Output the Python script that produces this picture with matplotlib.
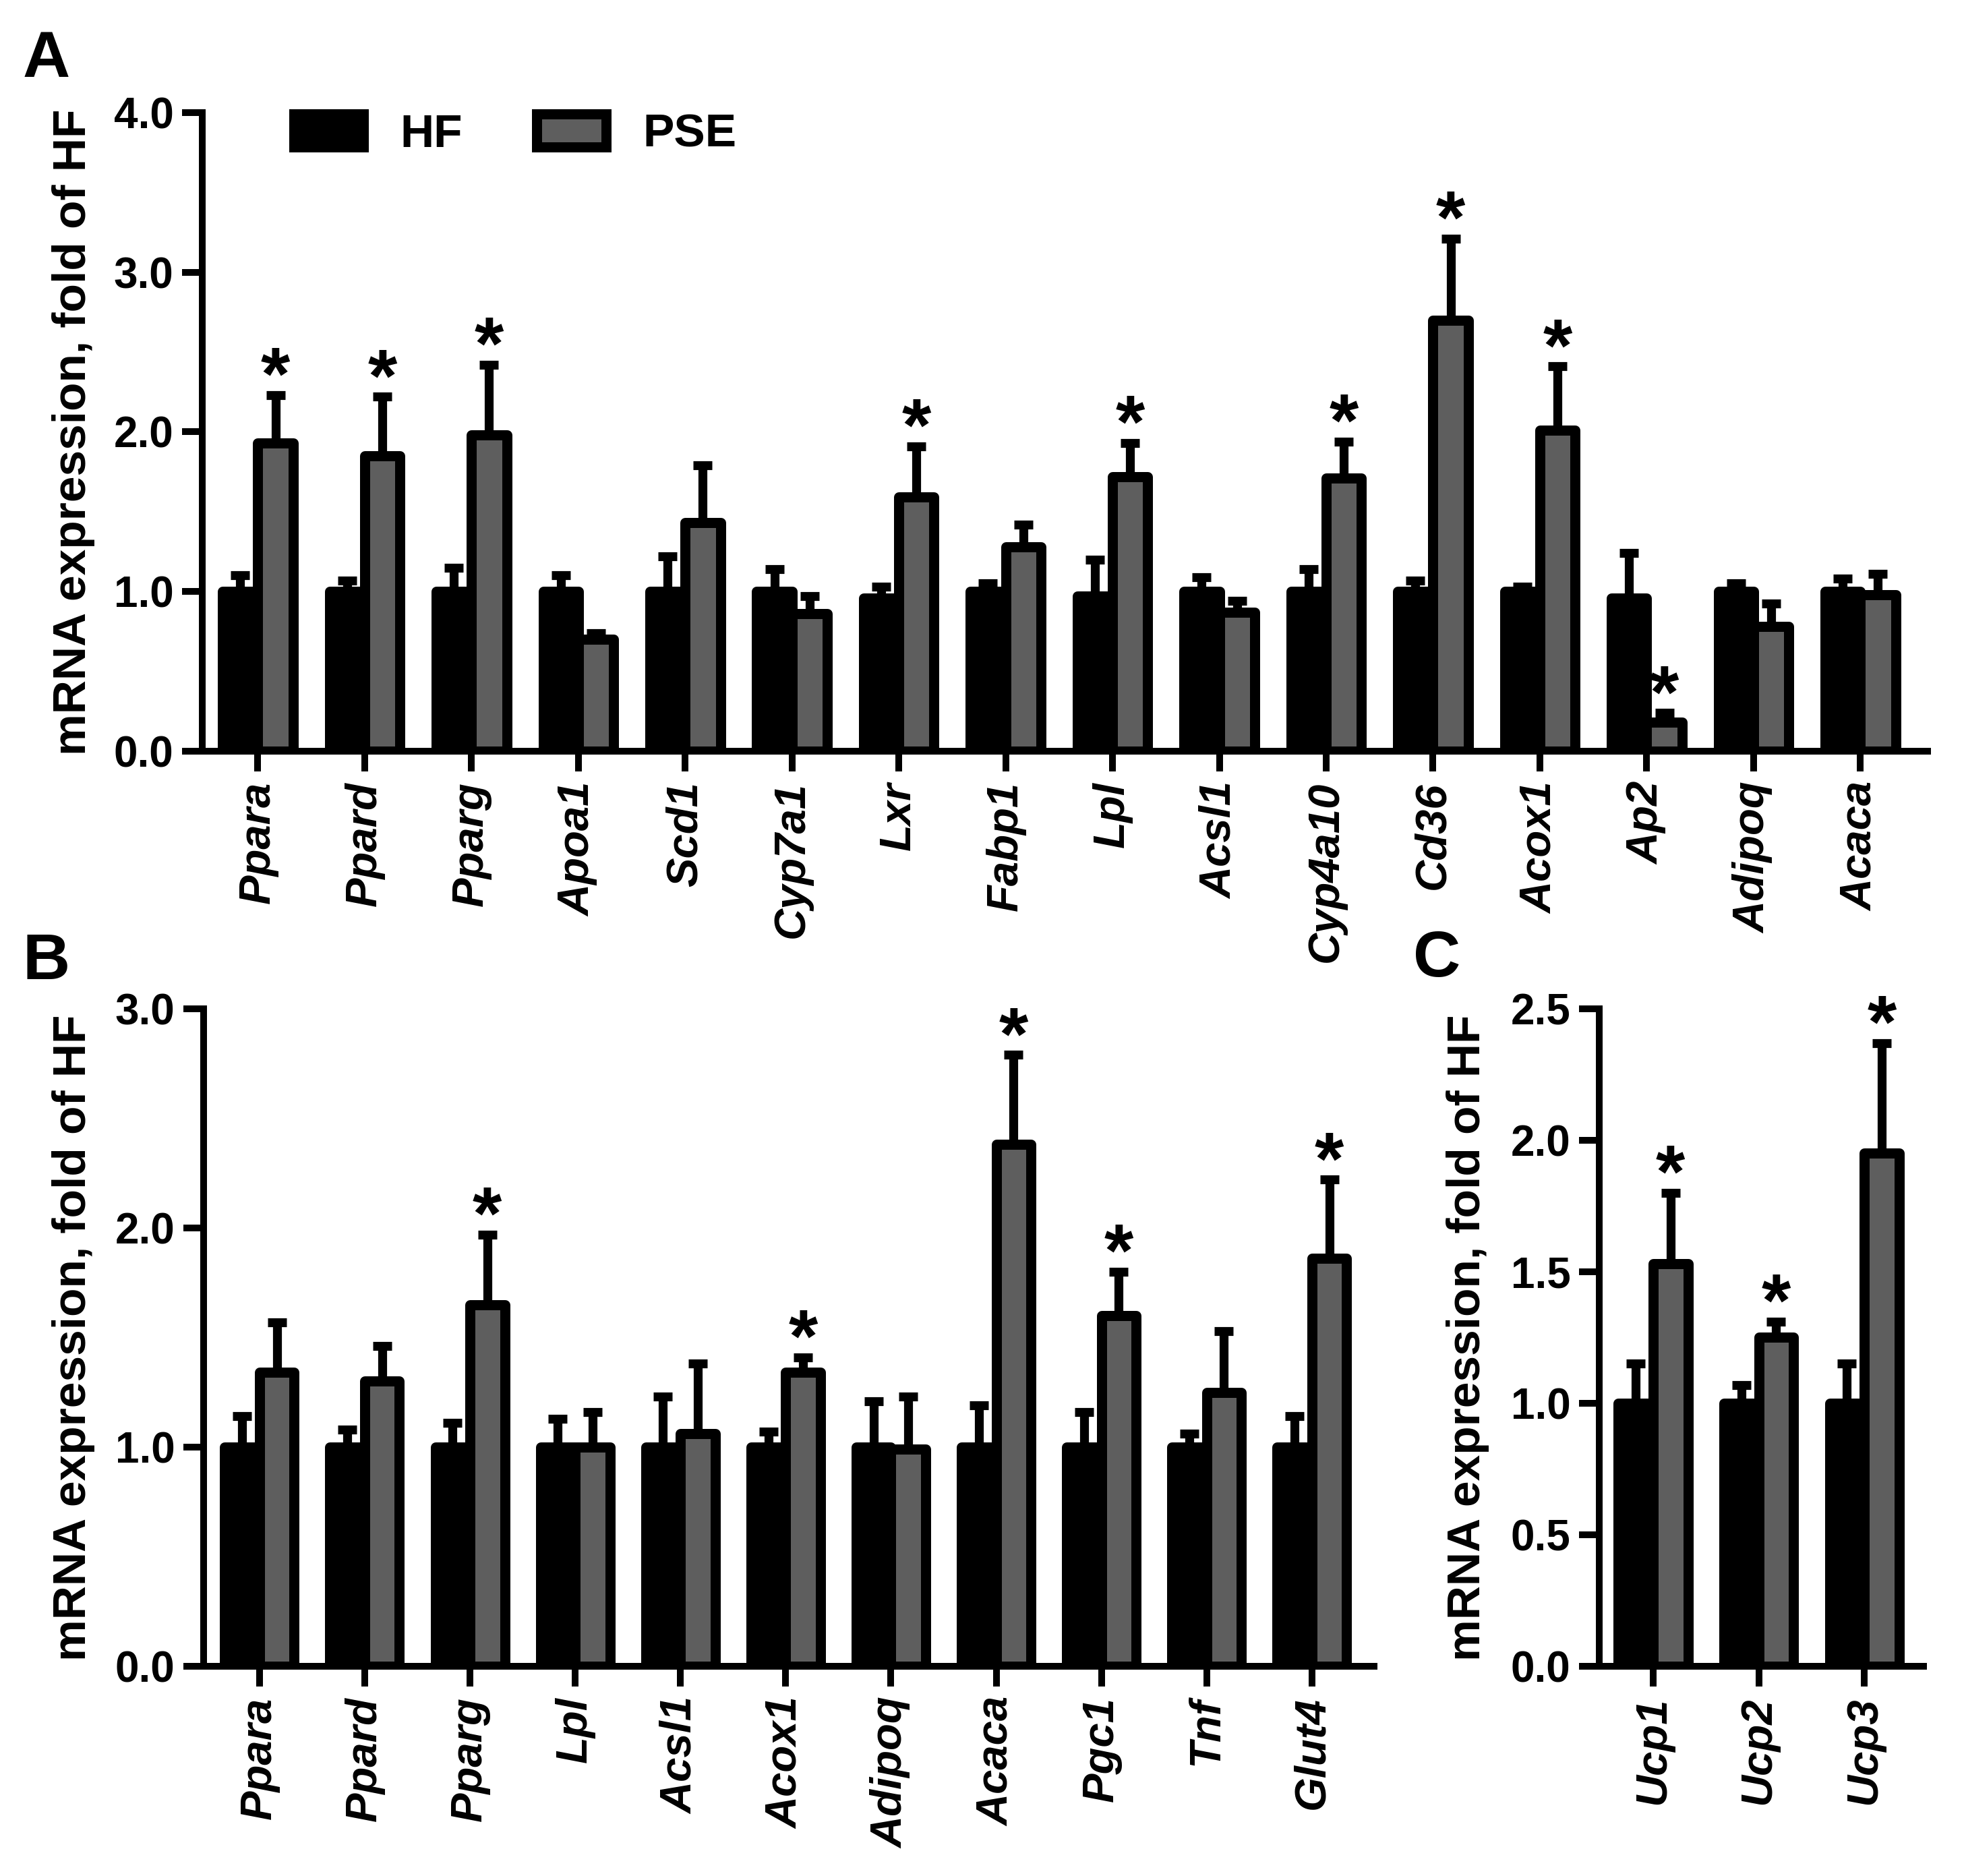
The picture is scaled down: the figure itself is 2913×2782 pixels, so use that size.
import numpy as np
import matplotlib
matplotlib.use("Agg")
import matplotlib.pyplot as plt
from matplotlib.patches import Patch
from matplotlib.transforms import blended_transform_factory

plt.rcParams["font.family"] = ["Liberation Sans", "DejaVu Sans"]
plt.rcParams["font.weight"] = "bold"

# ---- data, mean and SEM, fold of HF ----
genes_a = ["Ppara", "Ppard", "Pparg", "Apoa1", "Scd1", "Cyp7a1", "Lxr", "Fabp1",
           "Lpl", "Acsl1", "Cyp4a10", "Cd36", "Acox1", "Ap2", "Adipoq", "Acaca"]
hf_a = [1.00, 1.00, 1.00, 1.00, 1.00, 1.00, 0.96, 1.00, 0.97, 1.00, 1.00, 1.00, 1.00, 0.96, 1.00, 1.00]
hf_a_sem = [0.10, 0.07, 0.15, 0.10, 0.22, 0.14, 0.07, 0.05, 0.23, 0.09, 0.14, 0.07, 0.03, 0.28, 0.05, 0.08]
pse_a = [1.93, 1.85, 1.98, 0.70, 1.43, 0.86, 1.59, 1.28, 1.72, 0.87, 1.71, 2.70, 2.01, 0.18, 0.78, 0.98]
pse_a_sem = [0.30, 0.37, 0.44, 0.04, 0.36, 0.11, 0.32, 0.14, 0.21, 0.07, 0.23, 0.51, 0.40, 0.06, 0.145, 0.13]
sig_a = [1, 1, 1, 0, 0, 0, 1, 0, 1, 0, 1, 1, 1, 1, 0, 0]

genes_b = ["Ppara", "Ppard", "Pparg", "Lpl", "Acsl1", "Acox1", "Adipoq", "Acaca", "Pgc1", "Tnf", "Glut4"]
hf_b = [1.00, 1.00, 1.00, 1.00, 1.00, 1.00, 1.00, 1.00, 1.00, 1.00, 1.00]
hf_b_sem = [0.14, 0.08, 0.11, 0.13, 0.23, 0.07, 0.21, 0.19, 0.16, 0.06, 0.14]
pse_b = [1.34, 1.30, 1.65, 1.00, 1.06, 1.34, 0.99, 2.38, 1.60, 1.25, 1.86]
pse_b_sem = [0.23, 0.16, 0.32, 0.16, 0.32, 0.07, 0.24, 0.41, 0.20, 0.28, 0.36]
sig_b = [0, 0, 1, 0, 0, 1, 0, 1, 1, 0, 1]

genes_c = ["Ucp1", "Ucp2", "Ucp3"]
hf_c = [1.00, 1.00, 1.00]
hf_c_sem = [0.15, 0.07, 0.15]
pse_c = [1.53, 1.25, 1.95]
pse_c_sem = [0.27, 0.06, 0.42]
sig_c = [1, 1, 1]

GRAY = "#5e5e5e"
W, H = 2913, 2782
BW = 0.33      # bar width
EDGE = 10.8    # bar outline (pt)
LW = 7.2       # axis / tick line width (pt)

fig = plt.figure(figsize=(W / 100, H / 100), dpi=100)


def panel(rect, genes, hf, hf_sem, pse, pse_sem, sig, ylim, yticks, xlim, label_x):
    ax = fig.add_axes(rect)
    x = np.arange(len(genes))
    ax.bar(x - BW / 2, hf, BW, color="black", edgecolor="black", linewidth=EDGE,
           joinstyle="round", zorder=2)
    ax.bar(x + BW / 2, pse, BW, color=GRAY, edgecolor="black", linewidth=EDGE,
           joinstyle="round", zorder=2)
    zeros = np.zeros(len(genes))
    for xx, m, s in [(x - BW / 2, hf, hf_sem), (x + BW / 2, pse, pse_sem)]:
        ax.errorbar(xx, m, yerr=[zeros, s], fmt="none", ecolor="black",
                    elinewidth=9.5, capsize=10, capthick=9.5, zorder=1)
    for i in range(len(genes)):
        if sig[i]:
            ax.annotate("*", xy=(x[i] + BW / 2, pse[i] + pse_sem[i]), xytext=(0, -5),
                        textcoords="offset points", ha="center", va="baseline",
                        fontsize=80, fontweight="bold")
    ax.set_xlim(*xlim)
    ax.set_ylim(*ylim)
    ax.set_yticks(yticks)
    ax.set_yticklabels(["%.1f" % v for v in yticks])
    ax.set_xticks(x)
    ax.set_xticklabels(genes, rotation=90, fontstyle="italic", fontweight="bold")
    for side in ["top", "right"]:
        ax.spines[side].set_visible(False)
    for side in ["left", "bottom"]:
        ax.spines[side].set_linewidth(LW)
    ax.tick_params(axis="both", width=LW, length=21.6, labelsize=46)
    ax.tick_params(axis="x", pad=11, labelsize=47)
    ax.tick_params(axis="y", pad=9)
    ax.set_ylabel("mRNA expression, fold of HF", fontsize=50, fontweight="bold")
    ax.yaxis.set_label_coords(label_x, 0.5,
                              transform=blended_transform_factory(fig.transFigure, ax.transAxes))
    return ax


ax_a = panel([0.1030, 0.5996, 0.8785, 0.3404], genes_a, hf_a, hf_a_sem, pse_a, pse_a_sem, sig_a,
             (0, 4), [0, 1, 2, 3, 4], (-0.52, 15.63), 141 / W)
ax_b = panel([0.1037, 0.1118, 0.5959, 0.3505], genes_b, hf_b, hf_b_sem, pse_b, pse_b_sem, sig_b,
             (0, 3), [0, 1, 2, 3], (-0.53, 10.59), 141 / W)
ax_c = panel([0.8143, 0.1118, 0.1651, 0.3505], genes_c, hf_c, hf_c_sem, pse_c, pse_c_sem, sig_c,
             (0, 2.5), [0, 0.5, 1.0, 1.5, 2.0, 2.5], (-0.51, 2.56), 2209 / W)

handles = [Patch(facecolor="black", edgecolor="black", linewidth=EDGE, joinstyle="round", label="HF"),
           Patch(facecolor=GRAY, edgecolor="black", linewidth=EDGE, joinstyle="round", label="PSE")]
ax_a.legend(handles=handles, ncol=2, frameon=False, loc="upper left",
            bbox_to_anchor=(436 / W, 1 - 168 / H), bbox_transform=fig.transFigure,
            borderpad=0, borderaxespad=0, handlelength=1.48, handleheight=0.7,
            handletextpad=0.79, columnspacing=1.58,
            prop={"size": 50, "weight": "bold"})

for letter, px, py in [("A", 34, 44), ("B", 33, 1382), ("C", 2096, 1378)]:
    fig.text(px / W, 1 - py / H, letter, fontsize=70, fontweight="bold", ha="left", va="top")

fig.savefig("out.png", dpi=100)
